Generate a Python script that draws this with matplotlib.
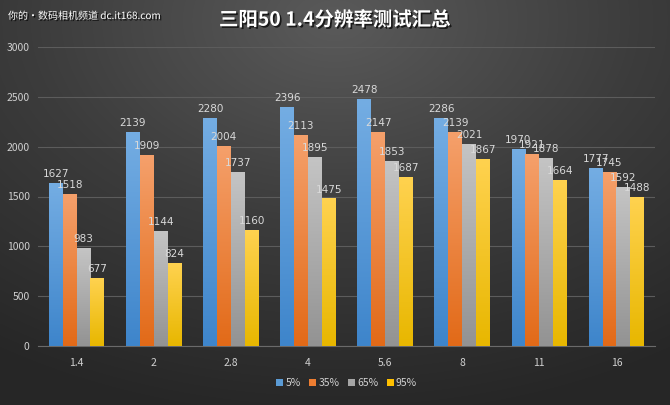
import numpy as np
import matplotlib
matplotlib.use("Agg")
import matplotlib.pyplot as plt
from matplotlib.colors import LinearSegmentedColormap
import matplotlib.patheffects as pe

plt.rcParams['font.family'] = ['Noto Sans CJK SC', 'DejaVu Sans']

apertures = ["1.4", "2", "2.8", "4", "5.6", "8", "11", "16"]
series = ["5%", "35%", "65%", "95%"]
v5 = [1627, 2139, 2280, 2396, 2478, 2286, 1970, 1777]
v35 = [1518, 1909, 2004, 2113, 2147, 2139, 1921, 1745]
v65 = [983, 1144, 1737, 1895, 1853, 2021, 1878, 1592]
v95 = [677, 824, 1160, 1475, 1687, 1867, 1664, 1488]
values = [v5, v35, v65, v95]

# top colour, bottom colour, legend colour
grads = [("#74ade3", "#3e85cb", "#5b9bd5"),
         ("#f5a06b", "#e26a18", "#ed7d31"),
         ("#c4c4c4", "#939393", "#a5a5a5"),
         ("#ffd24f", "#e8b700", "#ffc000")]

fig = plt.figure(figsize=(6.7, 4.05), dpi=100)

# dark radial background
bg = fig.add_axes([0, 0, 1, 1], zorder=-10)
yy, xx = np.mgrid[0:1:405j, 0:1:670j]
d = np.sqrt(((xx - 0.5) * 1.1) ** 2 + ((yy - 0.05) * 1.0) ** 2)
bgcmap = LinearSegmentedColormap.from_list("bg", ["#5a5a5a", "#3c3c3c", "#262626"])
bg.imshow(d, cmap=bgcmap, aspect="auto", extent=[0, 1, 1, 0], vmin=0, vmax=1.0)
bg.set_axis_off()

ax = fig.add_axes([38 / 670, 1 - 346 / 405, 617 / 670, 299 / 405])
ax.patch.set_alpha(0)

x = np.arange(len(apertures))
w = 0.18
grad = np.linspace(1, 0, 100).reshape(-1, 1)
for i, vals in enumerate(values):
    cm = LinearSegmentedColormap.from_list("g%d" % i, [grads[i][1], grads[i][0]])
    bars = ax.bar(x + (i - 1.5) * w, vals, w, color="none", zorder=3)
    for b, v in zip(bars, vals):
        x0, x1 = b.get_x(), b.get_x() + b.get_width()
        ax.imshow(grad, cmap=cm, aspect="auto", extent=[x0, x1, 0, v],
                  zorder=3, vmin=0, vmax=1)
        ax.text(x0 + b.get_width() / 2, v + 45, str(v), ha="center", va="bottom",
                fontsize=7.5, color="#d9d9d9", family="DejaVu Sans", zorder=5)
    ax.bar([0], [0], color=grads[i][2], label=series[i])

ax.set_xlim(-0.5, len(apertures) - 0.5)
ax.set_ylim(0, 3000)
ax.set_yticks(range(0, 3001, 500))
ax.set_xticks(x)
ax.set_xticklabels(apertures)
ax.grid(axis="y", color="#5c5c5c", linewidth=0.8, zorder=0)
ax.set_axisbelow(True)
for s in ["top", "right", "left"]:
    ax.spines[s].set_visible(False)
ax.spines["bottom"].set_color("#6a6a6a")
ax.tick_params(colors="#d0d0d0", labelsize=7.5, length=0, pad=9)
ax.tick_params(axis="y", pad=6)

leg = ax.legend(loc="center", bbox_to_anchor=(0.5, -0.124), ncol=4, frameon=False,
                fontsize=7.5, handlelength=0.7, handleheight=0.7, handletextpad=0.2,
                columnspacing=0.8, labelcolor="#d0d0d0")

fig.text(0.5, 1 - 20 / 405, "三阳50 1.4分辨率测试汇总", ha="center", va="center",
         fontsize=14, color="white", fontweight="bold",
         path_effects=[pe.withSimplePatchShadow(offset=(1.2, -1.2), shadow_rgbFace="black", alpha=0.7)])
fig.text(8 / 670, 1 - 16 / 405, "你的·数码相机频道 dc.it168.com", ha="left", va="center",
         fontsize=7.2, color="white",
         path_effects=[pe.withSimplePatchShadow(offset=(1, -1), shadow_rgbFace="black", alpha=0.8)])

fig.savefig("out.png", dpi=100)
